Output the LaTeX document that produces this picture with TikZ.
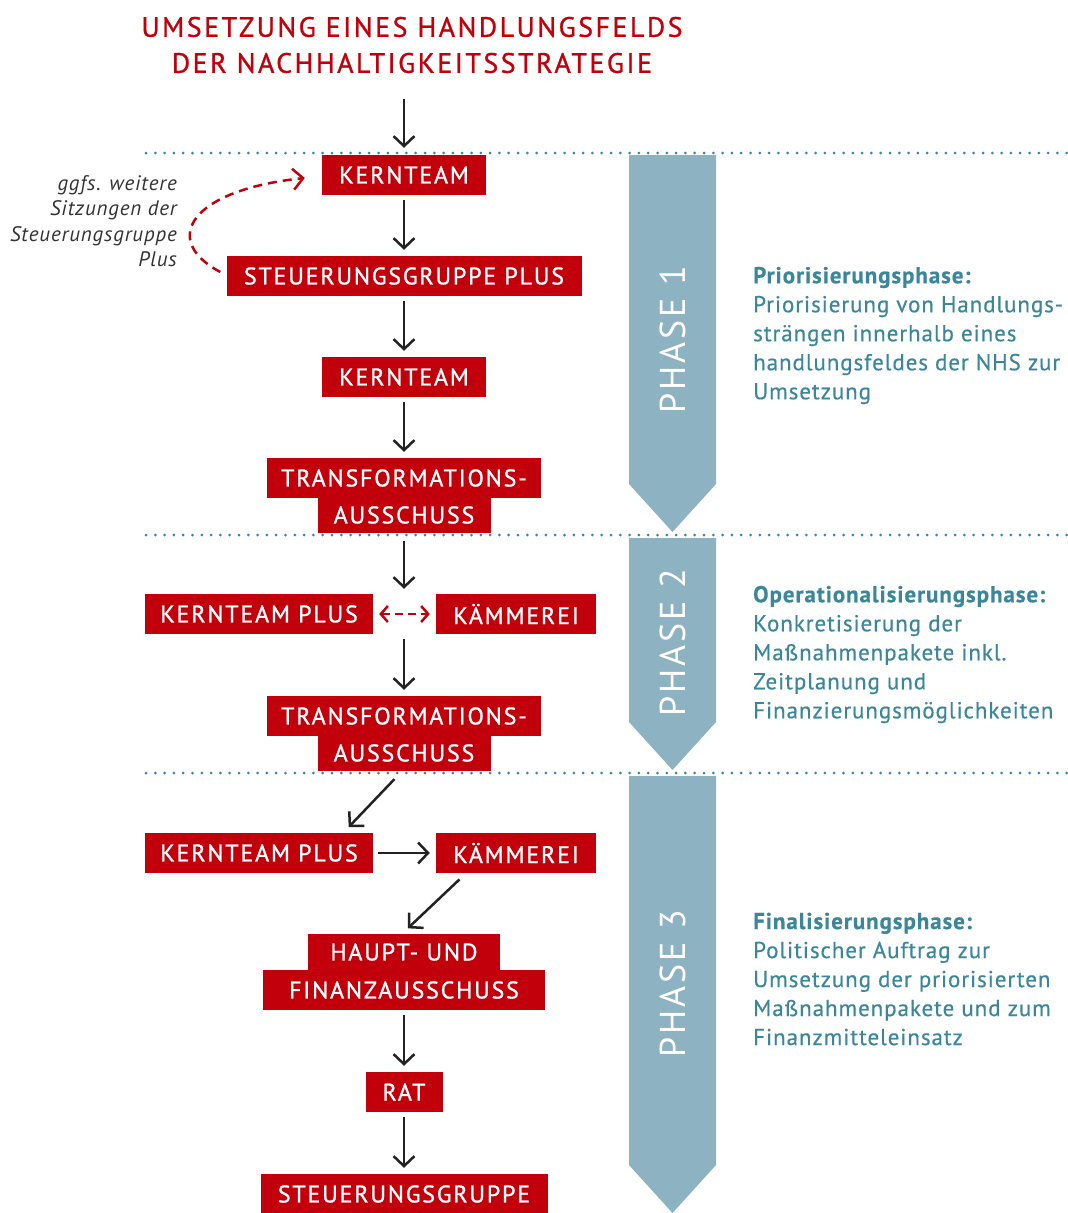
\documentclass[tikz,border=0pt]{standalone}
\usepackage{fontspec}
\setmainfont{PT Sans}
\usepackage{xcolor}
\usetikzlibrary{arrows.meta,positioning,calc}
\definecolor{kred}{HTML}{C2000B}
\definecolor{kteal}{HTML}{3B8799}
\definecolor{kphase}{HTML}{8DB2C2}
\definecolor{kdark}{HTML}{222222}
\definecolor{kgray}{HTML}{333333}
\newcommand{\boxfont}{\fontsize{24}{28}\selectfont\addfontfeature{LetterSpace=7.5, FakeBold=1}}

\begin{document}
\begin{tikzpicture}[x=1pt, y=-1pt,
    >={Straight Barb[length=10pt, width=21pt]},
    box/.style={fill=kred, text=white, font=\boxfont, inner sep=0pt, minimum height=40pt},
    flow/.style={->, draw=kdark, line width=2.5pt, shorten <=5pt, shorten >=6pt},
    loopback/.style={->, draw=kred, line width=2.5pt, dash pattern=on 9pt off 6pt},
    dotline/.style={draw=kteal, line width=3pt, line cap=round, dash pattern=on 0pt off 9.3pt},
    phase/.style={fill=kphase},
    phasetext/.style={text=white, rotate=90, font=\fontsize{36}{40}\selectfont\addfontfeature{LetterSpace=8}},
    info/.style={text=kteal, align=left, anchor=west, inner sep=0pt,
        font=\fontsize{23}{29}\selectfont\addfontfeature{LetterSpace=4, FakeBold=0.4}}]
    \useasboundingbox (0,0) rectangle (1068,1213);

    % Title
    \node[text=kred, align=center, font=\fontsize{28}{36}\selectfont\addfontfeature{LetterSpace=8.8, FakeBold=1}] (title) at (412,45)
        {UMSETZUNG EINES HANDLUNGSFELDS\\DER NACHHALTIGKEITSSTRATEGIE};

    % Phase arrows
    \fill[phase] (629,155) -- (716,155) -- (716,484) -- (672.5,532) -- (629,484) -- cycle;
    \fill[phase] (629,538) -- (716,538) -- (716,722) -- (672.5,770) -- (629,722) -- cycle;
    \fill[phase] (629,776) -- (716,776) -- (716,1165) -- (672.5,1213) -- (629,1165) -- cycle;
    \node[phasetext] (ph1) at (673,340) {PHASE 1};
    \node[phasetext] (ph2) at (673,643) {PHASE 2};
    \node[phasetext] (ph3) at (673,984) {PHASE 3};

    % Dotted separators
    \draw[dotline] (146,153) -- (1068,153);
    \draw[dotline] (146,535) -- (1068,535);
    \draw[dotline] (146,773) -- (1068,773);

    % Phase 1
    \node[box, minimum width=164pt] (kt1) at (404,175) {KERNTEAM};
    \node[box, minimum width=355pt] (sgp) at (404,276) {STEUERUNGSGRUPPE PLUS};
    \node[box, minimum width=164pt] (kt2) at (404,377) {KERNTEAM};
    \node[box, minimum width=274pt] (taA) at (404,478) {TRANSFORMATIONS-};
    \node[box, minimum width=173pt, minimum height=36pt] (taB) at (404,515) {AUSSCHUSS};

    % Phase 2
    \node[box, minimum width=228pt] (kp1) at (259,614) {KERNTEAM PLUS};
    \node[box, minimum width=160pt] (km1) at (516,614) {KÄMMEREI};
    \node[box, minimum width=274pt] (tbA) at (404,716) {TRANSFORMATIONS-};
    \node[box, minimum width=173pt, minimum height=36pt] (tbB) at (404,753) {AUSSCHUSS};

    % Phase 3
    \node[box, minimum width=228pt] (kp2) at (259,853) {KERNTEAM PLUS};
    \node[box, minimum width=160pt] (km2) at (516,853) {KÄMMEREI};
    \node[box, minimum width=192pt, minimum height=36pt] (hfA) at (404,952) {HAUPT- UND};
    \node[box, minimum width=282pt] (hfB) at (404,990) {FINANZAUSSCHUSS};
    \node[box, minimum width=77pt] (rat) at (404,1092) {RAT};
    \node[box, minimum width=287pt] (sg) at (404,1194) {STEUERUNGSGRUPPE};

    % Connectors
    \draw[flow, shorten <=22pt, shorten >=7pt] (title.south -| kt1.north) -- (kt1.north);
    \draw[flow] (kt1) -- (sgp);
    \draw[flow] (sgp) -- (kt2);
    \draw[flow] (kt2) -- (taA);
    \draw[flow, shorten <=8pt, shorten >=5pt] (taB.south) -- (kp1.north -| taB.south);
    \draw[flow] (kp1.south -| tbA.north) -- (tbA.north);
    \draw[flow, shorten <=11pt, shorten >=8pt] ([xshift=-2pt]tbB.south) -- ([xshift=-30pt]kp2.north east);
    \draw[flow] (kp2) -- (km2);
    \draw[flow, shorten <=9pt, shorten >=8pt] ([xshift=-50pt]km2.south) -- ([xshift=-2pt]hfA.north);
    \draw[flow] (hfB) -- (rat);
    \draw[flow] (rat) -- (sg);

    % Red dashed links
    \draw[<->, draw=kred, line width=2.5pt, dash pattern=on 8pt off 5pt,
          >={Straight Barb[length=7pt, width=16pt]}, shorten <=6pt, shorten >=6pt] (kp1) -- (km1);
    \draw[loopback] ($(sgp.west)+(-6,-4)$) .. controls (160,240) and (190,190) .. ($(kt1.west)+(-17,3)$);

    % Side notes
    \node[text=kgray, align=right, anchor=east, inner sep=0pt,
          font=\fontsize{21}{25.5}\selectfont\itshape\addfontfeature{LetterSpace=4}] (note) at (177,221)
        {ggfs. weitere\\Sitzungen der\\Steuerungsgruppe\\Plus};
    \node[info] (inf1) at (753,335.5)
        {\textbf{Priorisierungsphase:}\\Priorisierung von Handlungs-\\strängen innerhalb eines\\handlungsfeldes der NHS zur\\Umsetzung};
    \node[info] (inf2) at (753,654.5)
        {\textbf{Operationalisierungsphase:}\\Konkretisierung der\\Maßnahmenpakete inkl.\\Zeitplanung und\\Finanzierungsmöglichkeiten};
    \node[info] (inf3) at (753,979)
        {\textbf{Finalisierungsphase:}\\Politischer Auftrag zur\\Umsetzung der priorisierten\\Maßnahmenpakete und zum\\Finanzmitteleinsatz};
\end{tikzpicture}
\end{document}
